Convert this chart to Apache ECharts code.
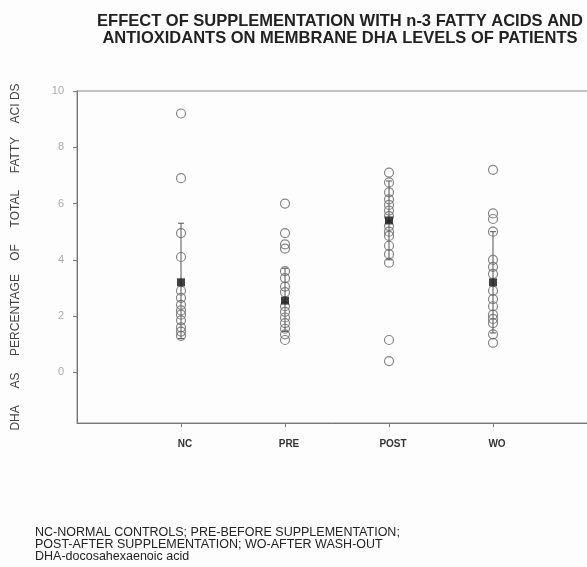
<!DOCTYPE html>
<html>
<head>
<meta charset="utf-8">
<script src="https://cdn.jsdelivr.net/npm/echarts@6/dist/echarts.min.js"></script>
<style>
  html, body { margin: 0; padding: 0; background: #fdfdfd; }
  #chart { width: 587px; height: 567px; }
</style>
</head>
<body>
<div id="chart"></div>
<script>
// groups along the x axis
const groups = ['NC', 'PRE', 'POST', 'WO']
const yTicks = [0, 2, 4, 6, 8, 10]

// individual DHA values per group
const ncValues = [9.2, 6.9, 4.95, 4.1, 2.9, 2.65, 2.4, 2.2, 2.05, 1.85, 1.6, 1.45, 1.3]
const preValues = [6.0, 4.95, 4.55, 4.4, 3.6, 3.35, 3.05, 2.85, 2.35, 2.15, 1.95, 1.75, 1.55, 1.35, 1.15]
const postValues = [7.1, 6.75, 6.4, 6.15, 5.95, 5.75, 5.55, 5.2, 5.0, 4.85, 4.5, 4.2, 3.9, 1.15, 0.4]
const woValues = [7.2, 5.65, 5.45, 5.0, 4.0, 3.75, 3.5, 2.9, 2.6, 2.35, 2.05, 1.9, 1.75, 1.35, 1.05]

// group means and error bar ends
const means = [3.2, 2.55, 5.4, 3.2]
const errLow = [1.2, 1.45, 4.0, 1.4]
const errHigh = [5.3, 3.7, 6.8, 5.0]

const allValues = [ncValues, preValues, postValues, woValues]

const chart = echarts.init(document.getElementById('chart'))

const pointData = []
allValues.forEach((vals, i) => {
  vals.forEach(v => pointData.push([i + 1, v]))
})
const meanData = means.map((m, i) => [i + 1, m])
const errData = groups.map((g, i) => [i + 1, errLow[i], errHigh[i]])

const font = 'Liberation Sans, Arial, sans-serif'

const option = {
  backgroundColor: '#fdfdfd',
  animation: false,
  title: {
    text: 'EFFECT OF SUPPLEMENTATION WITH n-3 FATTY ACIDS AND\nANTIOXIDANTS ON MEMBRANE DHA LEVELS OF PATIENTS',
    left: 335,
    top: 8,
    textAlign: 'center',
    textStyle: {
      fontFamily: font,
      fontSize: 16.5,
      fontWeight: 'bold',
      color: '#222',
      lineHeight: 17
    }
  },
  grid: {
    left: 77,
    top: 91,
    right: -10,
    bottom: 144,
    outerBoundsMode: 'none',
    containLabel: false,
    show: true,
    borderColor: '#888',
    borderWidth: 1
  },
  xAxis: {
    type: 'value',
    min: 0,
    max: 5,
    splitLine: { show: false },
    axisLine: { onZero: false, lineStyle: { color: '#777' } },
    axisTick: { length: 4, customValues: [1, 2, 3, 4], lineStyle: { color: '#777' } },
    axisLabel: {
      customValues: [1, 2, 3, 4],
      formatter: v => groups[v - 1] || '',
      margin: 16,
      padding: [0, 0, 0, 8],
      fontFamily: font,
      fontSize: 10,
      fontWeight: 'bold',
      color: '#333'
    }
  },
  yAxis: {
    type: 'value',
    min: -1.8,
    max: 10,
    name: 'DHA     AS     PERCENTAGE    OF     TOTAL     FATTY    ACI DS',
    nameLocation: 'middle',
    nameGap: 55,
    nameTextStyle: { fontFamily: font, fontSize: 12, color: '#444' },
    splitLine: { show: false },
    axisLine: { show: true, onZero: false, lineStyle: { color: '#777' } },
    axisTick: { show: true, length: 4, customValues: yTicks, lineStyle: { color: '#777' } },
    axisLabel: {
      customValues: yTicks,
      margin: 13,
      fontFamily: font,
      fontSize: 11,
      color: '#aaa'
    }
  },
  series: [
    {
      type: 'custom',
      data: errData,
      z: 2,
      renderItem(params, api) {
        const x = api.value(0)
        const top = api.coord([x, api.value(2)])
        const bot = api.coord([x, api.value(1)])
        const st = { stroke: '#555', lineWidth: 1 }
        return {
          type: 'group',
          children: [
            { type: 'line', shape: { x1: top[0], y1: top[1], x2: bot[0], y2: bot[1] }, style: st },
            { type: 'line', shape: { x1: top[0] - 3, y1: top[1], x2: top[0] + 3, y2: top[1] }, style: st },
            { type: 'line', shape: { x1: bot[0] - 3, y1: bot[1], x2: bot[0] + 3, y2: bot[1] }, style: st }
          ]
        }
      }
    },
    {
      type: 'scatter',
      data: pointData,
      z: 3,
      symbol: 'circle',
      symbolSize: 9,
      itemStyle: { color: 'rgba(0,0,0,0)', borderColor: '#666', borderWidth: 1.2 }
    },
    {
      type: 'scatter',
      data: meanData,
      z: 4,
      symbol: 'rect',
      symbolSize: 8,
      itemStyle: { color: '#111' }
    }
  ],
  graphic: [
    {
      type: 'text',
      left: 35,
      top: 526,
      style: {
        text: 'NC-NORMAL CONTROLS; PRE-BEFORE SUPPLEMENTATION;\nPOST-AFTER SUPPLEMENTATION; WO-AFTER WASH-OUT\nDHA-docosahexaenoic acid',
        font: '12.5px Liberation Sans, Arial, sans-serif',
        fill: '#222',
        lineHeight: 12
      }
    }
  ]
}

chart.setOption(option)
</script>
</body>
</html>
